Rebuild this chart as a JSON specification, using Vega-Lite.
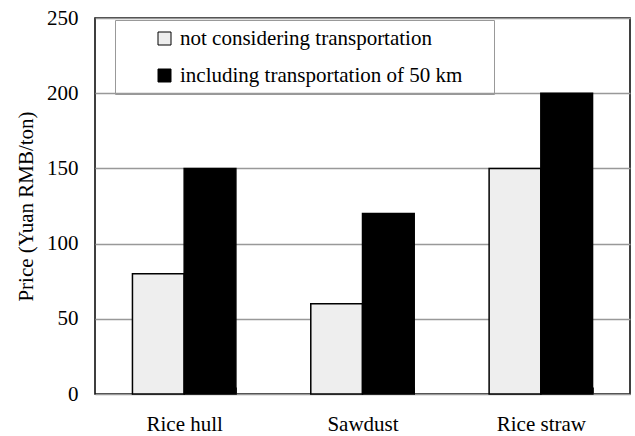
{
  "$schema": "https://vega.github.io/schema/vega-lite/v6.json",
  "width": 535,
  "height": 376,
  "autosize": {"type": "none"},
  "padding": {"left": 95, "top": 18, "right": 5, "bottom": 42},
  "background": "white",
  "config": {
    "font": "'Liberation Serif', 'Times New Roman', serif",
    "view": {"stroke": "black", "strokeWidth": 1.5}
  },
  "data": {
    "values": [
      {"material": "Rice hull", "series": "not considering transportation", "price": 80},
      {"material": "Rice hull", "series": "including transportation of 50 km", "price": 150},
      {"material": "Sawdust", "series": "not considering transportation", "price": 60},
      {"material": "Sawdust", "series": "including transportation of 50 km", "price": 120},
      {"material": "Rice straw", "series": "not considering transportation", "price": 150},
      {"material": "Rice straw", "series": "including transportation of 50 km", "price": 200}
    ]
  },
  "mark": {"type": "bar", "stroke": "black", "strokeWidth": 1.5},
  "encoding": {
    "x": {
      "field": "material",
      "type": "nominal",
      "sort": ["Rice hull", "Sawdust", "Rice straw"],
      "scale": {"paddingInner": 0.42, "paddingOuter": 0.21},
      "axis": {
        "title": null,
        "labelAngle": 0,
        "labelFont": "'Liberation Serif', 'Times New Roman', serif",
        "labelFontSize": 21,
        "labelColor": "black",
        "labelPadding": 26,
        "domain": false,
        "ticks": true,
        "tickBand": "extent",
        "tickSize": -7,
        "tickColor": "#333333",
        "tickWidth": 1
      }
    },
    "xOffset": {
      "field": "series",
      "type": "nominal",
      "sort": ["not considering transportation", "including transportation of 50 km"],
      "scale": {"paddingInner": 0}
    },
    "y": {
      "field": "price",
      "type": "quantitative",
      "scale": {"domain": [0, 250], "nice": false},
      "axis": {
        "title": "Price (Yuan RMB/ton)",
        "titleFont": "'Liberation Serif', 'Times New Roman', serif",
        "titleFontSize": 21,
        "titleFontWeight": "normal",
        "titleColor": "black",
        "titlePadding": 10,
        "values": [0, 50, 100, 150, 200, 250],
        "labelFont": "'Liberation Serif', 'Times New Roman', serif",
        "labelFontSize": 21,
        "labelColor": "black",
        "labelPadding": 17,
        "ticks": false,
        "domain": false,
        "grid": true,
        "gridColor": "#999999",
        "gridWidth": 1.5
      }
    },
    "fill": {
      "field": "series",
      "type": "nominal",
      "sort": ["not considering transportation", "including transportation of 50 km"],
      "scale": {"range": ["#eeeeee", "black"]},
      "legend": {
        "title": "\u00a0",
        "titleOrient": "right",
        "titlePadding": 24,
        "titleFontSize": 10,
        "orient": "none",
        "legendX": 20,
        "legendY": 2,
        "strokeColor": "#999999",
        "padding": 8,
        "symbolOffset": 31,
        "symbolType": "square",
        "symbolSize": 169,
        "symbolStrokeColor": "black",
        "symbolStrokeWidth": 1,
        "labelFont": "'Liberation Serif', 'Times New Roman', serif",
        "labelFontSize": 21,
        "labelColor": "black",
        "labelOffset": 5,
        "labelLimit": 400,
        "rowPadding": 15
      }
    }
  }
}
